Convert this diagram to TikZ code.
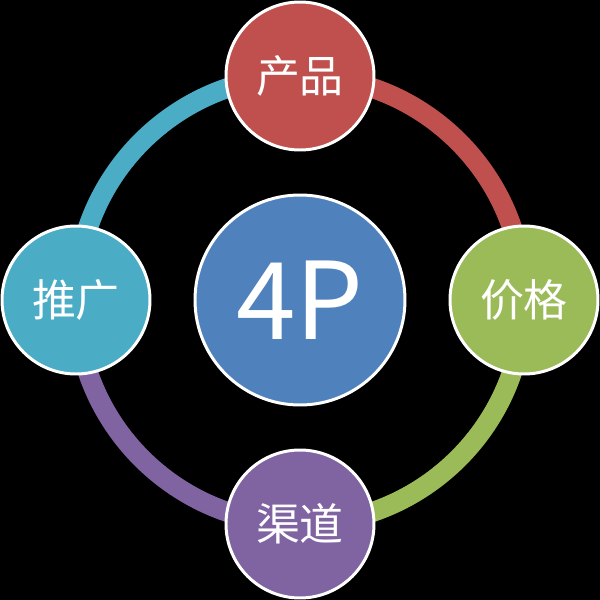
\documentclass[tikz,border=0pt]{standalone}
\usepackage{fontspec}
\setmainfont{Noto Sans CJK SC}
\usepackage{tikz}

\definecolor{pred}{HTML}{C0504D}
\definecolor{pgreen}{HTML}{9BBB59}
\definecolor{ppurple}{HTML}{8064A2}
\definecolor{pteal}{HTML}{4BACC6}
\definecolor{pblue}{HTML}{4F81BD}

\begin{document}
\begin{tikzpicture}[
    ball/.style={circle, draw=white, line width=1.7pt, text=white,
                 minimum size=2.96cm, inner sep=0pt, font=\fontsize{25}{25}\selectfont},
    ring/.style={line width=0.4cm}]
    \fill[black] (-6,-6) rectangle (6,6);
          % ring positions
          \coordinate (top) at (0,4.48);
          \coordinate (right) at (4.48,0);
          \coordinate (bottom) at (0,-4.48);
          \coordinate (left) at (-4.48,0);
          \draw[ring, pred] (top) arc[start angle=90, end angle=0, radius=4.48];
          \draw[ring, pgreen] (right) arc[start angle=0, end angle=-90, radius=4.48];
          \draw[ring, ppurple] (bottom) arc[start angle=-90, end angle=-180, radius=4.48];
          \draw[ring, pteal] (left) arc[start angle=180, end angle=90, radius=4.48];
          % circles on top
          \node[ball, fill=pred] (chanpin) at (top) {产品};
          \node[ball, fill=pgreen] (jiage) at (right) {价格};
          \node[ball, fill=ppurple] (qudao) at (bottom) {渠道};
          \node[ball, fill=pteal] (tuiguang) at (left) {推广};
          \node[ball, fill=pblue, minimum size=4.2cm, font=\fontsize{61}{61}\selectfont] (core) at (0,0) {4P};
\end{tikzpicture}
\end{document}
